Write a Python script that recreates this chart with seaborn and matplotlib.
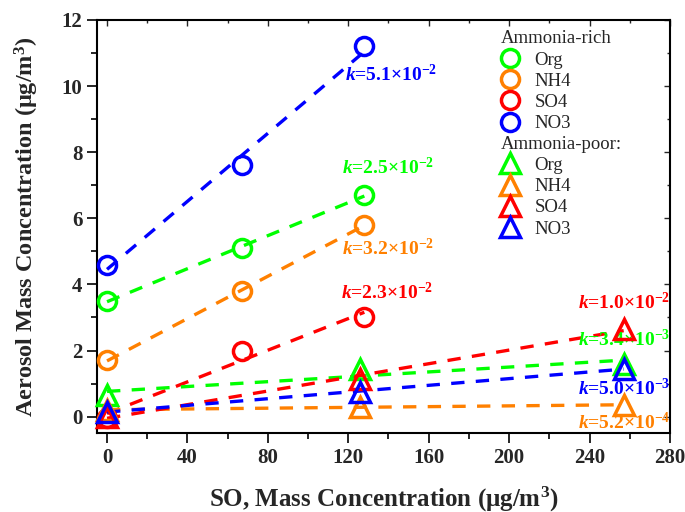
import matplotlib
import matplotlib.pyplot as plt
import numpy as np
import pandas as pd
import seaborn as sns
from matplotlib.lines import Line2D
from matplotlib.ticker import MultipleLocator

matplotlib.use("Agg")

sns.set_theme(style="ticks")
plt.rcParams["font.family"] = ["Liberation Serif", "DejaVu Serif"]
plt.rcParams["font.weight"] = "bold"
plt.rcParams["mathtext.fontset"] = "custom"
plt.rcParams["mathtext.rm"] = "Liberation Serif:bold"
plt.rcParams["mathtext.bf"] = "Liberation Serif:bold"
plt.rcParams["mathtext.it"] = "Liberation Serif:italic:bold"

species = ["Org", "NH4", "SO4", "NO3"]
colors = {"Org": "#00ff00", "NH4": "#ff8000", "SO4": "#ff0000", "NO3": "#0000ff"}

# ammonia-rich case (circles)
rich_so2 = [0, 67, 128]
rich_org = [3.5, 5.1, 6.7]
rich_nh4 = [1.7, 3.8, 5.8]
rich_so4 = [-0.05, 2.0, 3.0]
rich_no3 = [4.6, 7.6, 11.2]

# ammonia-poor case (triangles)
poor_so2 = [0, 126, 257]
poor_org = [0.65, 1.45, 1.6]
poor_nh4 = [0.2, 0.3, 0.35]
poor_so4 = [0.0, 1.15, 2.65]
poor_no3 = [0.15, 0.75, 1.45]

rich_k = ["5.1", "2.5", "3.2", "2.3"]
rich_k_exp = ["2", "2", "2", "2"]
poor_k = ["1.0", "3.4", "5.0", "5.2"]
poor_k_exp = ["2", "3", "3", "4"]

rich = pd.DataFrame({"so2": rich_so2 * 4,
                     "species": np.repeat(species, 3),
                     "conc": rich_org + rich_nh4 + rich_so4 + rich_no3})
poor = pd.DataFrame({"so2": poor_so2 * 4,
                     "species": np.repeat(species, 3),
                     "conc": poor_org + poor_nh4 + poor_so4 + poor_no3})

fig = plt.figure(figsize=(6.85, 5.12), dpi=100)
ax = fig.add_axes([0.1416, 0.154, 0.8364, 0.807])

# dashed linear fits
for df in (rich, poor):
    for sp in species:
        sub = df[df["species"] == sp]
        sns.regplot(data=sub, x="so2", y="conc", ax=ax, scatter=False, ci=None,
                    truncate=True, color=colors[sp],
                    line_kws={"linestyle": (0, (4, 3.4)), "linewidth": 2.4})

# open markers
for df, mk in ((rich, "o"), (poor, "^")):
    for sp in species:
        sub = df[df["species"] == sp]
        ax.plot(sub["so2"], sub["conc"], linestyle="none", marker=mk,
                markersize=13 if mk == "o" else 15, markerfacecolor="none",
                markeredgecolor=colors[sp], markeredgewidth=2.5, clip_on=False,
                zorder=4)

# slope labels
rich_lab = [("NO3", 118.5, 10.36), ("Org", 117, 7.55),
            ("NH4", 117, 5.1), ("SO4", 116.5, 3.75)]
poor_lab = [("SO4", 234.5, 3.45), ("Org", 234.5, 2.33),
            ("NO3", 234.5, 0.85), ("NH4", 234.5, -0.18)]
for (sp, x, y), k, e in zip(rich_lab, rich_k, rich_k_exp):
    ax.text(x, y, rf"$k$={k}×10$^{{-{e}}}$", color=colors[sp], fontsize=14,
            fontweight="bold", va="center", ha="left")
for (sp, x, y), k, e in zip(poor_lab, poor_k, poor_k_exp):
    ax.text(x, y, rf"$k$={k}×10$^{{-{e}}}$", color=colors[sp], fontsize=14,
            fontweight="bold", va="center", ha="left")

ax.set_xlim(-5, 280)
ax.set_ylim(-0.5, 12)
ax.xaxis.set_major_locator(MultipleLocator(40))
ax.xaxis.set_minor_locator(MultipleLocator(20))
ax.yaxis.set_major_locator(MultipleLocator(2))
ax.yaxis.set_minor_locator(MultipleLocator(1))
ax.tick_params(which="both", direction="out", top=False, right=False, width=1.4)
ax.tick_params(which="major", length=7, labelsize=15)
ax.tick_params(which="minor", length=4)
for s in ax.spines.values():
    s.set_visible(True)
    s.set_linewidth(1.5)
    s.set_color("black")

# inward mirrored ticks on top/right
top = ax.secondary_xaxis("top")
top.xaxis.set_major_locator(MultipleLocator(40))
top.xaxis.set_minor_locator(MultipleLocator(20))
top.tick_params(which="both", direction="in", labeltop=False, width=1.0)
top.tick_params(which="major", length=4)
top.tick_params(which="minor", length=2.5)
right = ax.secondary_yaxis("right")
right.yaxis.set_major_locator(MultipleLocator(2))
right.yaxis.set_minor_locator(MultipleLocator(1))
right.tick_params(which="both", direction="in", labelright=False, width=1.0)
right.tick_params(which="major", length=4)
right.tick_params(which="minor", length=2.5)

ax.set_xlabel("SO, Mass Concentration (μg/m$^3$)", fontsize=18,
              fontweight="bold", labelpad=12)
ax.set_ylabel("Aerosol Mass Concentration (μg/m$^3$)", fontsize=17.5,
              fontweight="bold", labelpad=15)

# legends
def make_handles(mk):
    return [Line2D([], [], linestyle="none", marker=mk,
                   markersize=13 if mk == "o" else 15,
                   markerfacecolor="none", markeredgecolor=colors[sp],
                   markeredgewidth=2.5) for sp in species]

leg_kw = dict(frameon=False, prop={"size": 13.5, "weight": "normal"},
              title_fontproperties={"size": 13.5, "weight": "normal"},
              alignment="left", handlelength=1.0, handletextpad=0.8,
              labelspacing=0.22, borderpad=0, borderaxespad=0, loc="upper left")
leg1 = ax.legend(make_handles("o"), species, title="Ammonia-rich",
                 bbox_to_anchor=(0.705, 0.975), **leg_kw)
ax.add_artist(leg1)
ax.legend(make_handles("^"), species, title="Ammonia-poor:",
          bbox_to_anchor=(0.705, 0.72), **leg_kw)

fig.savefig("out.png", dpi=100)
plt.close(fig)
